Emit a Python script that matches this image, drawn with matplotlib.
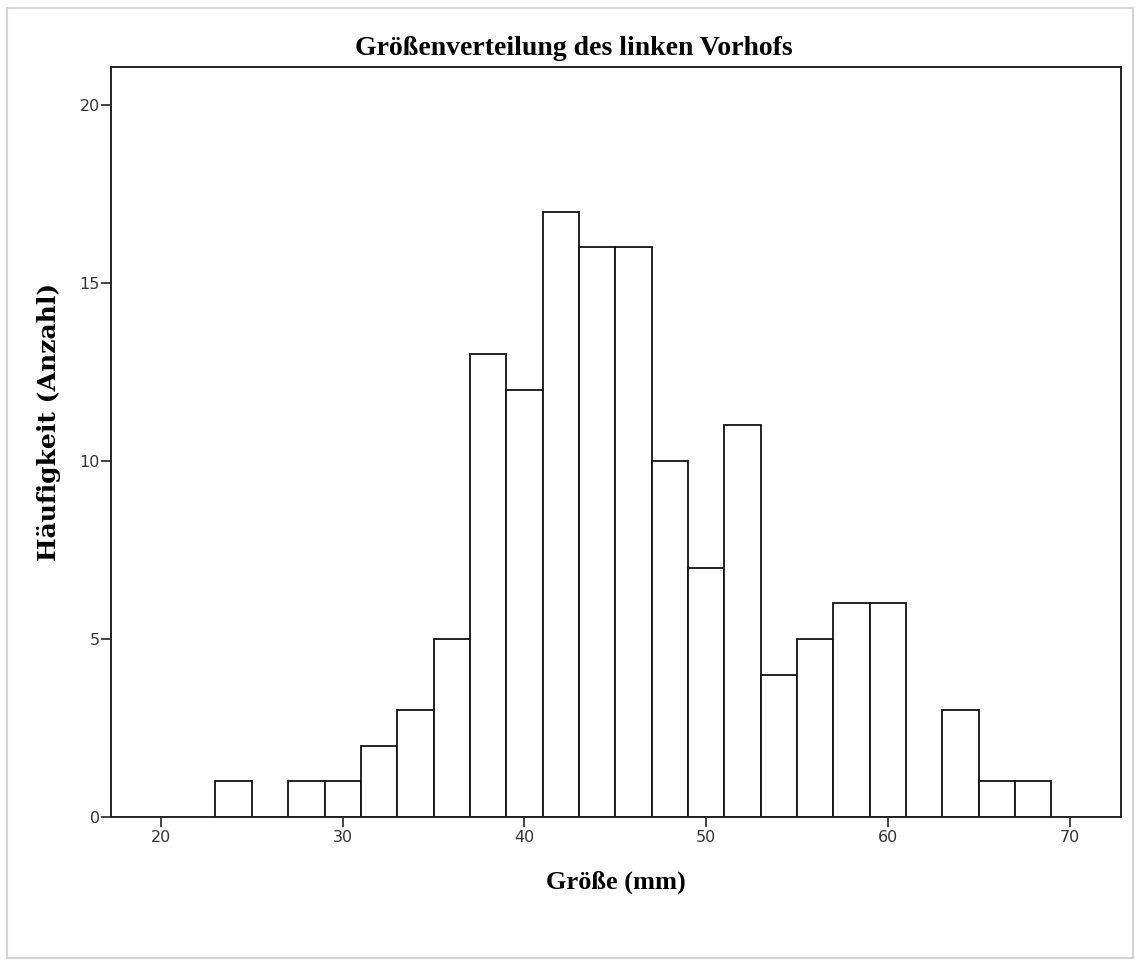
import matplotlib.pyplot as plt
import numpy as np
from matplotlib.patches import Rectangle

# Histogramm-Daten (Klassenbreite 2 mm)
bin_left = [23, 25, 27, 29, 31, 33, 35, 37, 39, 41, 43, 45, 47, 49, 51, 53, 55, 57, 59, 61, 63, 65, 67]
counts   = [1, 0, 1, 1, 2, 3, 5, 13, 12, 17, 16, 16, 10, 7, 11, 4, 5, 6, 6, 0, 3, 1, 1]
bin_width = 2

title  = 'Größenverteilung des linken Vorhofs'
xlabel = 'Größe (mm)'
ylabel = 'Häufigkeit (Anzahl)'
xticks = [20, 30, 40, 50, 60, 70]
yticks = [0, 5, 10, 15, 20]

W, H = 1135, 960
fig = plt.figure(figsize=(W/100, H/100), dpi=100)
ax = fig.add_axes([111/W, 1 - 817/H, (1121 - 111)/W, (817 - 67)/H])

ax.bar(bin_left, counts, width=bin_width, align='edge',
       color='white', edgecolor='#111111', linewidth=1.3)

ax.set_xlim(17.25, 72.83)
ax.set_ylim(0, 21.07)
ax.set_xticks(xticks)
ax.set_yticks(yticks)
ax.tick_params(direction='out', length=7, width=1.2, labelsize=11.5,
               labelcolor='#333333', color='#222222')
ax.tick_params(axis='x', pad=2)
ax.tick_params(axis='y', pad=1)
for s in ax.spines.values():
    s.set_linewidth(1.4)
    s.set_color('#222222')

serif = ['Liberation Serif', 'DejaVu Serif']
ax.set_title(title, family=serif, fontweight='bold', fontsize=20, pad=8.6,
             x=(574 - 111)/1010)
ax.set_xlabel(xlabel, family=serif, fontweight='bold', fontsize=19, va='center')
ax.xaxis.set_label_coords(0.5, -(882 - 817)/750)
# die y-Beschriftung ist im Original breiter gesetzt -> breitere Serifenschrift
ax.set_ylabel(ylabel, family=['DejaVu Serif'], fontweight='bold', fontsize=18,
              va='center')
ax.yaxis.set_label_coords((49 - 111)/1010, (817 - 422)/750)

# heller Rahmen um die Grafik
fig.patches.append(Rectangle((7/W, 1 - 958/H), (1133 - 7)/W, (958 - 8)/H,
                             transform=fig.transFigure, fill=False,
                             edgecolor='#d4d4d4', linewidth=1.5))

plt.savefig('out.png', dpi=100)
